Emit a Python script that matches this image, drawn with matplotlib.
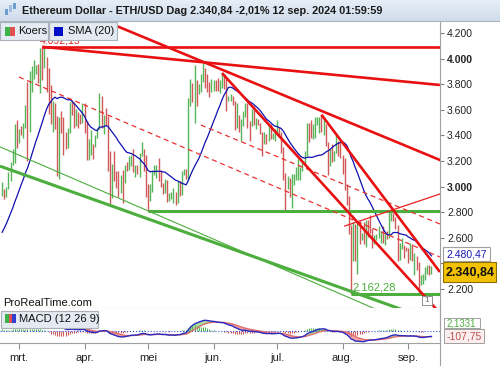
import matplotlib
matplotlib.use("Agg")
import matplotlib.pyplot as plt
import matplotlib.dates as mdates
from matplotlib.patches import Rectangle
from matplotlib.lines import Line2D
import numpy as np
import pandas as pd

plt.rcParams['font.family'] = ['Liberation Sans', 'DejaVu Sans']

W, H = 500, 366

# ETH/USD daily bars 22 feb - 12 sep 2024
first_day = '2024-02-22'
high = [3035, 2985, 3000, 3115, 3190, 3290, 3490, 3520,
        3450, 3475, 3500, 3640, 3820, 3900, 3940, 3990, 3950, 3960, 4080, 4092, 4085, 4010, 3930, 3790,
        3670, 3650, 3550, 3540, 3590, 3540, 3430, 3460, 3660, 3680, 3660, 3610, 3580, 3565, 3655,
        3650, 3510, 3370, 3440, 3335, 3400, 3460, 3730, 3710, 3560, 3615, 3555, 3280, 3180, 3280,
        3125, 3120, 3090, 3130, 3170, 3190, 3240, 3245, 3290, 3170, 3165, 3260, 3350, 3290, 3250,
        3020, 3020, 3120, 3170, 3170, 3220, 3130, 3030, 3060, 3050, 2950, 2960, 2990, 2960, 3040,
        3040, 3120, 3140, 3140, 3690, 3840, 3810, 3950, 3830, 3800, 3880, 3975, 3930, 3880, 3820, 3840,
        3830, 3830, 3850, 3830, 3887, 3880, 3840, 3710, 3720, 3710, 3670, 3650, 3560, 3530, 3590,
        3650, 3650, 3515, 3610, 3630, 3535, 3525, 3500, 3425, 3430, 3410, 3480, 3490, 3420, 3450,
        3520, 3465, 3430, 3310, 3110, 3080, 3070, 3100, 3100, 3150, 3215, 3150, 3200, 3280, 3500,
        3500, 3520, 3490, 3540, 3540, 3545, 3562, 3540, 3490, 3350, 3290, 3330, 3280, 3400, 3360, 3350,
        3250, 3220, 3020, 2930, 2700, 2720, 2710, 2720, 2730, 2640, 2720, 2740, 2740, 2780, 2680,
        2620, 2630, 2690, 2650, 2690, 2640, 2650, 2800, 2820, 2790, 2765, 2700, 2560, 2600, 2540, 2530,
        2520, 2560, 2550, 2480, 2460, 2410, 2310, 2320, 2370, 2390, 2390, 2380]
low = [2925, 2900, 2915, 2985, 3040, 3170, 3185, 3305,
       3340, 3400, 3380, 3460, 3200, 3430, 3740, 3840, 3880, 3810, 3730, 3830, 3930, 3740, 3570, 3490,
       3430, 3450, 3080, 3060, 3420, 3250, 3290, 3300, 3420, 3560, 3460, 3470, 3460, 3490, 3500,
       3420, 3210, 3210, 3250, 3215, 3310, 3380, 3450, 3460, 3410, 3480, 3120, 2850, 2910, 3040,
       2990, 2920, 2950, 2870, 3030, 3120, 3130, 3160, 3115, 3075, 3100, 3075, 3240, 3120, 2920,
       2810, 2890, 2955, 3090, 3070, 3040, 3000, 2940, 2950, 2880, 2890, 2900, 2870, 2860, 2870,
       2930, 2935, 3090, 3060, 3050, 3630, 3660, 3500, 3630, 3720, 3740, 3820, 3770, 3740, 3700, 3740,
       3750, 3750, 3750, 3730, 3770, 3760, 3590, 3670, 3670, 3640, 3440, 3460, 3430, 3360, 3470,
       3540, 3460, 3360, 3470, 3480, 3450, 3480, 3410, 3240, 3330, 3330, 3360, 3370, 3370, 3355,
       3420, 3400, 3260, 3050, 2810, 2980, 2920, 2830, 3010, 3050, 3050, 3050, 3120, 3170, 3240,
       3350, 3380, 3370, 3380, 3480, 3420, 3430, 3400, 3320, 3090, 3160, 3190, 3200, 3260, 3240, 3220,
       3100, 2970, 2860, 2630, 2162, 2420, 2420, 2320, 2550, 2580, 2550, 2530, 2610, 2640, 2520,
       2550, 2580, 2600, 2560, 2560, 2540, 2590, 2600, 2730, 2730, 2670, 2420, 2430, 2510, 2440, 2500,
       2400, 2430, 2420, 2310, 2350, 2150, 2230, 2240, 2270, 2320, 2310, 2320]
close = [2970, 2925, 2995, 3110, 3180, 3245, 3385, 3340,
         3435, 3420, 3490, 3630, 3550, 3820, 3870, 3885, 3915, 3880, 4065, 3985, 4005, 3880, 3735, 3520,
         3645, 3515, 3160, 3515, 3490, 3335, 3330, 3455, 3590, 3585, 3490, 3560, 3510, 3505, 3645,
         3505, 3280, 3310, 3330, 3320, 3390, 3455, 3700, 3505, 3545, 3505, 3240, 3010, 3160, 3100,
         3080, 2985, 3065, 3060, 3160, 3150, 3200, 3220, 3140, 3155, 3130, 3250, 3260, 3210, 3010,
         2970, 2990, 3100, 3120, 3140, 3060, 3000, 2970, 3040, 2910, 2910, 2950, 2950, 2880, 3040,
         2945, 3090, 3120, 3070, 3660, 3790, 3740, 3780, 3730, 3750, 3830, 3890, 3840, 3770, 3750, 3760,
         3815, 3780, 3770, 3810, 3860, 3810, 3680, 3680, 3705, 3665, 3500, 3560, 3470, 3480, 3565,
         3620, 3510, 3480, 3560, 3515, 3520, 3490, 3420, 3350, 3390, 3370, 3450, 3380, 3380, 3430,
         3440, 3420, 3300, 3060, 2990, 3060, 2930, 3020, 3070, 3100, 3100, 3130, 3180, 3250, 3480,
         3440, 3390, 3430, 3510, 3520, 3530, 3440, 3480, 3340, 3170, 3270, 3250, 3270, 3320, 3280, 3230,
         3200, 2990, 2900, 2690, 2420, 2680, 2460, 2720, 2600, 2610, 2560, 2720, 2700, 2660, 2570,
         2590, 2610, 2610, 2640, 2570, 2630, 2620, 2760, 2770, 2750, 2680, 2460, 2530, 2530, 2520, 2510,
         2430, 2540, 2420, 2450, 2370, 2230, 2270, 2300, 2360, 2390, 2340, 2341]
# closes of 1 jan - 21 feb, only to warm up SMA(20) and MACD
warmup_close = [2350, 2355, 2210, 2270, 2270, 2240, 2220, 2330, 2345, 2585, 2620, 2520, 2580, 2470,
                2510, 2590, 2530, 2470, 2490, 2470, 2455, 2310, 2240, 2235, 2220, 2270, 2270, 2260,
                2320, 2340, 2285, 2305, 2310, 2290, 2290, 2300, 2370, 2420, 2420, 2490, 2500, 2510,
                2660, 2640, 2780, 2820, 2800, 2790, 2880, 2945, 3015, 2965]

month_ticks = ['2024-03-01', '2024-04-01', '2024-05-01', '2024-06-01',
               '2024-07-01', '2024-08-01', '2024-09-01']
month_labels = ['mrt.', 'apr.', 'mei', 'jun.', 'jul.', 'aug.', 'sep.']
price_ticks = [2200, 2400, 2600, 2800, 3000, 3200, 3400, 3600, 3800, 4000, 4200]

# trend lines drawn on the chart: start date, start price, end date, end price
red_thick = [('2024-03-12', 4092.15, '2024-09-17', 4092.15),
             ('2024-03-12', 4092.15, '2024-09-16', 3794),
             ('2024-06-05', 3887, '2024-09-16', 2012),
             ('2024-07-22', 3562, '2024-09-16', 2333)]
red_long = ('2024-05-27', 3975, '2024-09-16', 3208)   # extended both ways
red_thin = [('2024-08-02', 2692, '2024-09-16', 2942)]
red_dashed = [('2024-03-01', 3856, '2024-09-16', 2450),
              ('2024-05-26', 3481, '2024-09-16', 2708)]
green_thick = [('2024-02-21', 3160, '2024-09-16', 1934),
               ('2024-05-01', 2810, '2024-09-17', 2810),
               ('2024-08-05', 2162.28, '2024-09-17', 2162.28)]
green_thin = [('2024-02-21', 3310, '2024-09-16', 1826)]

# ---- indicators
dates = pd.date_range(first_day, periods=len(close), freq='D')
all_dates = pd.date_range(end=dates[0] - pd.Timedelta(days=1), periods=len(warmup_close), freq='D').append(dates)
cl = pd.Series(warmup_close + close, index=all_dates, dtype=float)
sma = cl.rolling(20).mean()[dates]
macd_line = cl.ewm(span=12, adjust=False).mean() - cl.ewm(span=26, adjust=False).mean()
signal = macd_line.ewm(span=9, adjust=False).mean()
macd_line = macd_line[dates].values
signal = signal[dates].values
hist = macd_line - signal

x = mdates.date2num(dates)
prev = np.r_[warmup_close[-1], close[:-1]]
up = np.array(close) >= prev
bar_cols = np.where(up, '#58b458', '#d05858')

fig = plt.figure(figsize=(W / 100, H / 100), dpi=100)
fig.patch.set_facecolor('white')


def fx(px):
    return px / W


def fy(py):
    return 1 - py / H


def box(x0, y0, w, h, **kw):
    fig.patches.append(Rectangle((fx(x0), fy(y0 + h)), w / W, h / H,
                                 transform=fig.transFigure, **kw))


xl = (mdates.datestr2num('2024-02-21'), mdates.datestr2num('2024-09-16') + 0.06)

# ---- main price panel
ax = fig.add_axes([0, fy(308), fx(440), (308 - 21) / H])
ax.set_xlim(xl)
ax.set_ylim(2051.6, 4293.75)
ax.vlines(x, low, high, colors=bar_cols, lw=1.0, zorder=2)
ax.plot(x, sma.values, color='#1010b0', lw=0.9, zorder=3)


def seg(lst, **kw):
    for d0, p0, d1, p1 in lst:
        ax.plot([mdates.datestr2num(d0), mdates.datestr2num(d1)], [p0, p1], **kw)


seg(green_thin, color='#4cae3c', lw=0.8, zorder=4)
seg(green_thick, color='#4cae3c', lw=2.2, zorder=4, solid_capstyle='butt')
seg(red_dashed, color='#e83030', lw=0.9, ls=(0, (4, 3)), zorder=5)
seg(red_thin, color='#e82020', lw=0.9, zorder=5)
seg(red_thick, color='#e81010', lw=1.9, zorder=5, solid_capstyle='butt')
ax.axline((mdates.datestr2num(red_long[0]), red_long[1]),
          (mdates.datestr2num(red_long[2]), red_long[3]), color='#e81010', lw=1.9, zorder=5)

ax.text(mdates.datestr2num('2024-03-11'), 4104, '4.092,15', color='#e02020', fontsize=7.5,
        va='bottom', ha='left', zorder=6)
ax.text(mdates.datestr2num('2024-08-05') + 0.6, 2175, '2.162,28', color='#4cae3c', fontsize=8,
        va='bottom', ha='left', zorder=6)

ax.yaxis.tick_right()
ax.set_yticks(price_ticks)
# the 2.400 label sits behind the last-price box, so it is left blank
ax.set_yticklabels(['' if v == 2400 else f'{v:,}'.replace(',', '.') for v in price_ticks])
for lab, v in zip(ax.get_yticklabels(), price_ticks):
    if v in (3000, 4000):
        lab.set_fontweight('bold')
ax.tick_params(axis='y', direction='out', length=3, width=0.8, color='#808080',
               labelsize=7.5, labelcolor='#222222', pad=2)
ax.set_xticks([])
for sp in ['top', 'left']:
    ax.spines[sp].set_visible(False)
for sp in ['right', 'bottom']:
    ax.spines[sp].set_color('#a0a0a0')
    ax.spines[sp].set_linewidth(0.8)

# ---- MACD panel
mx = fig.add_axes([0, fy(343), fx(440), 35 / H])
mx.set_xlim(xl)
s = 19.0
mx.set_ylim(-12 * s, 23 * s)
mx.fill_between(x, macd_line, signal, where=macd_line >= signal, interpolate=True,
                color='#a6dc9c', lw=0)
mx.fill_between(x, macd_line, signal, where=macd_line < signal, interpolate=True,
                color='#f2a4a4', lw=0)
mx.vlines(x, 0, hist, colors=np.where(hist >= 0, '#5cb85c', '#d25c5c'), lw=0.8)
mx.axhline(0, color='#3050d8', lw=0.8, ls=':')
mx.plot(x, signal, color='#e07070', lw=1.0)
mx.plot(x, macd_line, color='#2a2ac0', lw=1.0)
mx.set_yticks([])
mx.set_xticks(mdates.datestr2num(month_ticks))
mx.set_xticklabels(month_labels)
mx.tick_params(axis='x', direction='out', length=4, width=0.8, color='#909090',
               labelsize=8, labelcolor='#222222', pad=3)
mx.spines['top'].set_visible(False)
mx.spines['left'].set_visible(False)
for sp in ['right', 'bottom']:
    mx.spines[sp].set_color('#a0a0a0')
    mx.spines[sp].set_linewidth(0.8)

# ---- title bar
tb = fig.add_axes([0, fy(21), 1, 21 / H])
grad = np.linspace(0, 1, 32)[:, None]
tb.imshow(grad, aspect='auto', cmap=matplotlib.colors.LinearSegmentedColormap.from_list(
    'bar', ['#e6eef7', '#cfdcea']), extent=(0, 1, 0, 1))
tb.set_axis_off()
fig.lines.append(Line2D([0, 1], [fy(21), fy(21)], transform=fig.transFigure, color='#a8b4c0', lw=0.8))
for bx, by0, by1, c in [(5, 9, 15, '#6d9cd0'), (9, 5, 12, '#9fc0e4'), (13, 3, 9, '#6d9cd0')]:
    box(bx, by0, 2.5, by1 - by0, fc=c, ec='none')
fig.text(fx(22), fy(10.5), 'Ethereum Dollar - ETH/USD Dag 2.340,84 -2,01% 12 sep. 2024 01:59:59',
         fontsize=7.8, fontweight='bold', va='center', ha='left', color='#1a1a1a')

# ---- legend boxes
box(0, 22, 48, 18, fc='#e4eaf1', ec='#a8b0ba', lw=0.8)
box(5, 27, 5, 9, fc='#3cb44a', ec='none')
box(10, 27, 5, 9, fc='#e05050', ec='none')
fig.text(fx(18), fy(31.5), 'Koers', fontsize=8, va='center', color='#111111')
box(49, 22, 68, 18, fc='#e4eaf1', ec='#a8b0ba', lw=0.8)
box(54, 27, 9, 9, fc='#0010c8', ec='none')
fig.text(fx(68), fy(31.5), 'SMA (20)', fontsize=8, va='center', color='#111111')

box(1, 311, 97, 17, fc='#e4eaf1', ec='#a8b0ba', lw=0.8)
box(5, 314, 3.5, 9, fc='#3cb44a', ec='none')
box(8.5, 314, 3.5, 9, fc='#e05050', ec='none')
box(12, 314, 3.5, 9, fc='#3040d0', ec='none')
fig.text(fx(19), fy(319.5), 'MACD (12 26 9)', fontsize=8, va='center', color='#111111')

fig.text(fx(3), fy(303), 'ProRealTime.com', fontsize=8, va='center', color='#111111')

# ---- right side value labels
box(443, 247, 47, 14, fc='white', ec='#a0a0a0', lw=0.8)
fig.text(fx(446), fy(254.5), '2.480,47', fontsize=7.5, va='center', color='#1a1ab8')
box(443, 262, 53, 20, fc='#f2c200', ec='#8a7000', lw=0.8)
fig.text(fx(446), fy(272.5), '2.340,84', fontsize=9, fontweight='bold', va='center', color='#111111')
box(422, 296, 10, 9, fc='white', ec='#909090', lw=0.7)
fig.text(fx(427), fy(300.5), '1', fontsize=6, va='center', ha='center', color='#707070')
box(444, 318, 36, 10, fc='white', ec='#a0a0a0', lw=0.7)
fig.text(fx(447), fy(323), '2,1331', fontsize=7, va='center', color='#4cae3c')
box(444, 329, 40, 14, fc='#fbeeee', ec='#a0a0a0', lw=0.7)
fig.text(fx(447), fy(336.5), '-107,75', fontsize=7.5, va='center', color='#c05050')

fig.lines.append(Line2D([fx(440), fx(440)], [fy(308), 0], transform=fig.transFigure,
                        color='#a0a0a0', lw=0.8))

fig.savefig('out.png', dpi=100)
